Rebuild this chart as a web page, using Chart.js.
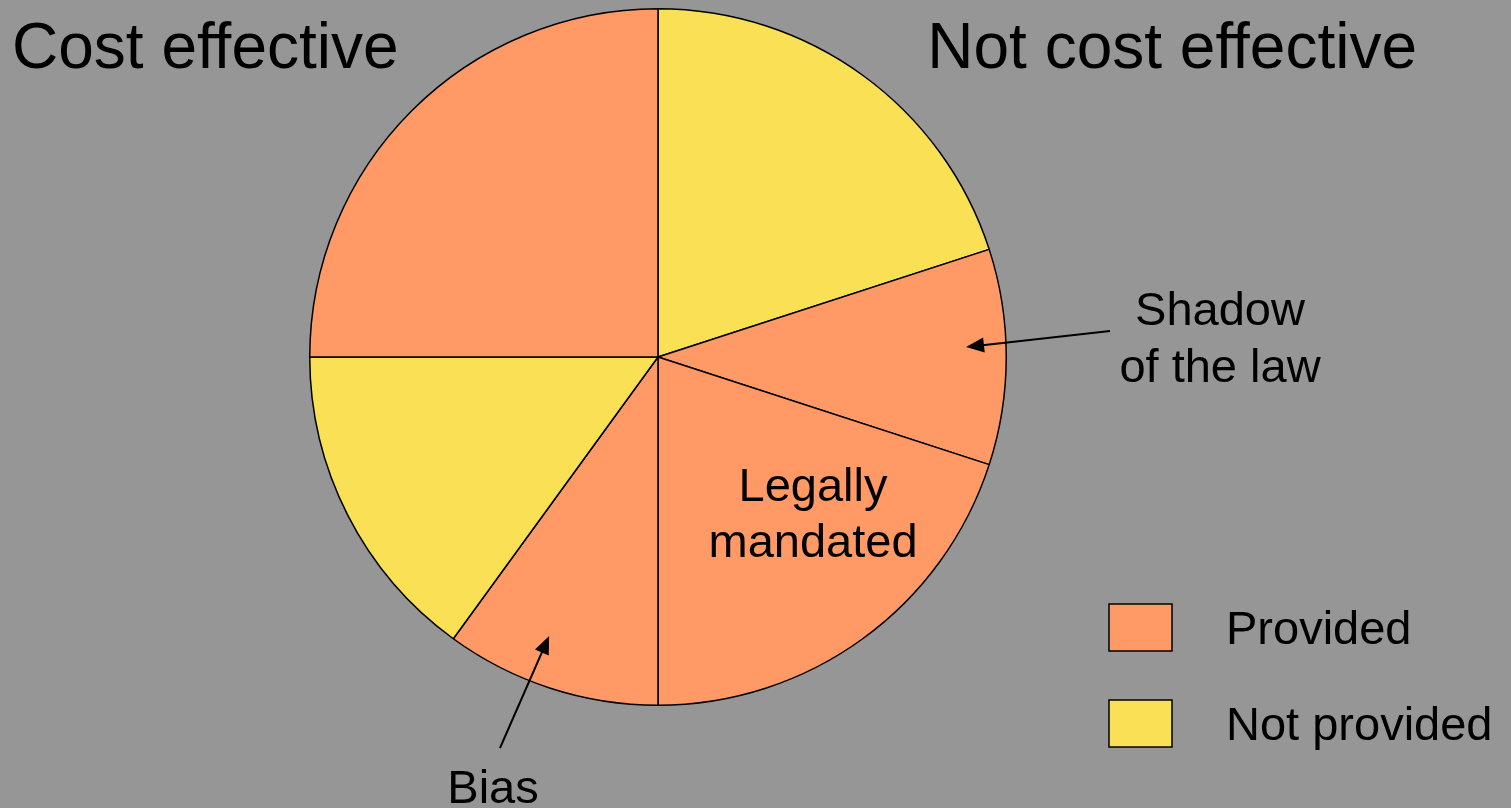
<!DOCTYPE html>
<html>
<head>
<meta charset="utf-8">
<script src="https://cdn.jsdelivr.net/npm/chart.js@4"></script>
<style>
  html, body { margin: 0; padding: 0; background: #969696; overflow: hidden; }
  canvas { display: block; }
</style>
</head>
<body>
<canvas id="PieChart" width="1511" height="808"></canvas>
<script>
// slices clockwise from 12 o'clock
const categories = ['Not provided', 'Shadow of the law', 'Legally mandated', 'Bias', 'Not provided', 'Provided'];
const shares = [20, 10, 20, 10, 15, 25];
const sliceStatus = ['Not provided', 'Provided', 'Provided', 'Provided', 'Not provided', 'Provided'];

const legendLabels = ['Provided', 'Not provided'];
const legendColors = ['#FF9966', '#F9E055'];

const headings = ['Cost effective', 'Not cost effective'];

const colorFor = (s) => legendColors[legendLabels.indexOf(s)];

const font = '"Liberation Sans", Arial, sans-serif';

function arrow(c, x1, y1, x2, y2) {
    const a = Math.atan2(y2 - y1, x2 - x1);
    const len = 18, half = 7.5;
    c.beginPath();
    c.moveTo(x1, y1);
    c.lineTo(x2 - Math.cos(a) * len * 0.8, y2 - Math.sin(a) * len * 0.8);
    c.lineWidth = 2;
    c.strokeStyle = '#000';
    c.stroke();
    c.beginPath();
    c.moveTo(x2, y2);
    c.lineTo(x2 - Math.cos(a) * len - Math.sin(a) * half, y2 - Math.sin(a) * len + Math.cos(a) * half);
    c.lineTo(x2 - Math.cos(a) * len + Math.sin(a) * half, y2 - Math.sin(a) * len - Math.cos(a) * half);
    c.closePath();
    c.fillStyle = '#000';
    c.fill();
}

const annotations = {
    id: 'annotations',
    afterDraw(chart) {
        const c = chart.ctx;
        const arcs = chart.getDatasetMeta(0).data;
        const cx = arcs[0].x, cy = arcs[0].y, r = arcs[0].outerRadius;
        c.save();
        c.fillStyle = '#000';
        c.textBaseline = 'alphabetic';

        // headings
        c.font = '64px ' + font;
        c.textAlign = 'left';
        c.fillText(headings[0], 12, 68);
        c.textAlign = 'right';
        c.fillText(headings[1], 1417, 68);

        // slice labels
        c.font = '47px ' + font;
        c.textAlign = 'center';
        c.fillText('Shadow', 1220, 325);
        c.fillText('of the law', 1220, 382);
        c.fillText('Legally', 813, 501);
        c.fillText('mandated', 813, 557);
        c.fillText(categories[3], 493, 803);

        // arrows pointing into the slices
        const shadow = arcs[1];
        const sa = (shadow.startAngle + shadow.endAngle) / 2 - 0.0325;
        arrow(c, 1110, 331, cx + Math.cos(sa) * r * 0.885, cy + Math.sin(sa) * r * 0.885);
        const bias = arcs[3];
        const ba = (bias.startAngle + bias.endAngle) / 2 + 0.058;
        arrow(c, 500, 748, cx + Math.cos(ba) * r * 0.86, cy + Math.sin(ba) * r * 0.86);

        // legend
        legendLabels.forEach((lbl, i) => {
            const y = 604 + i * 96;
            c.fillStyle = legendColors[i];
            c.fillRect(1109, y, 63, 47);
            c.lineWidth = 1.5;
            c.strokeStyle = '#000';
            c.strokeRect(1109, y, 63, 47);
            c.fillStyle = '#000';
            c.textAlign = 'left';
            c.fillText(lbl, 1226, y + 40);
        });
        c.restore();
    }
};

new Chart(document.getElementById('PieChart'), {
    type: 'pie',
    data: {
        labels: categories,
        datasets: [{
            data: shares,
            backgroundColor: sliceStatus.map(colorFor),
            borderColor: '#000',
            borderWidth: 1.5
        }]
    },
    options: {
        responsive: false,
        animation: false,
        layout: { padding: { left: 309, right: 504, top: 8, bottom: 102 } },
        plugins: {
            legend: { display: false },
            tooltip: { enabled: false }
        }
    },
    plugins: [annotations]
});
</script>
</body>
</html>
